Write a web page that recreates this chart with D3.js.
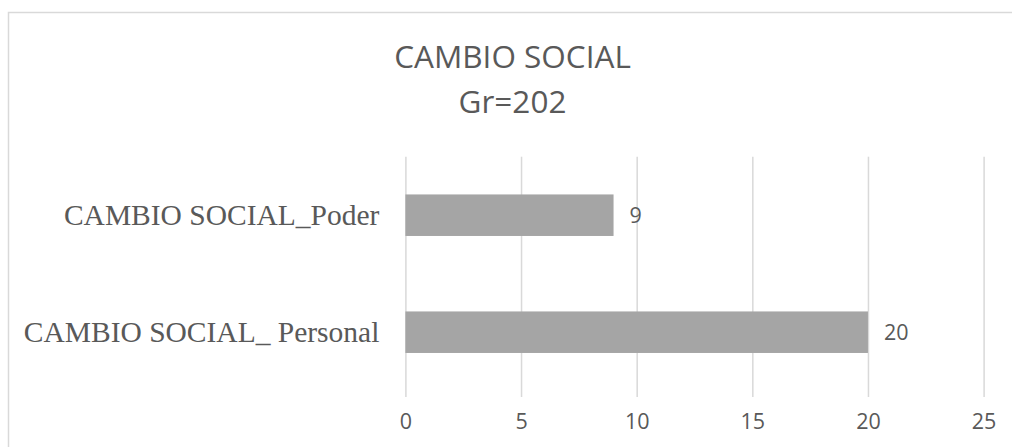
<!DOCTYPE html>
<html>
<head>
<meta charset="utf-8">
<script src="https://cdn.jsdelivr.net/npm/d3@7"></script>
<style>
  html, body { margin: 0; padding: 0; background: #fff; overflow: hidden; }
  svg { display: block; overflow: hidden; }
</style>
</head>
<body>
<svg id="chart" width="1012" height="447"></svg>
<script>
// Categories listed from top to bottom, with their counts
const categories = ["CAMBIO SOCIAL_Poder", "CAMBIO SOCIAL_ Personal"];
const values = [9, 20];
const tickValues = [0, 5, 10, 15, 20, 25];
const titleLines = ["CAMBIO SOCIAL", "Gr=202"];

const W = 1012, H = 447;
const svg = d3.select("#chart");

const textColor = "#595959";
const gridColor = "#d9d9d9";
const barColor = "#a5a5a5";
const sansFont = "'Open Sans', 'Noto Sans', sans-serif";
const serifFont = "'Liberation Serif', 'Times New Roman', serif";

// Chart frame (runs past the right and bottom edges of the view)
svg.append("rect")
  .attr("x", 8.5).attr("y", 12.5)
  .attr("width", W + 20).attr("height", H + 20)
  .attr("fill", "#fff")
  .attr("stroke", gridColor)
  .attr("stroke-width", 1.5);

// Plot area
const plot = { left: 405.4, right: 983.6, top: 156.7, bottom: 390.7, gridBottom: 397 };

const x = d3.scaleLinear()
  .domain([0, 25])
  .range([plot.left, plot.right]);

const y = d3.scaleBand()
  .domain(categories)
  .range([plot.top, plot.bottom])
  .paddingInner(0.645)
  .paddingOuter(0.3225);

// Vertical gridlines and tick labels
const xAxis = d3.axisBottom(x)
  .tickValues(tickValues)
  .tickFormat(d3.format("d"))
  .tickSizeInner(-(plot.gridBottom - plot.top))
  .tickSizeOuter(0)
  .tickPadding(17);

const gx = svg.append("g")
  .attr("transform", `translate(0,${plot.gridBottom})`)
  .call(xAxis);
gx.select(".domain").remove();
gx.selectAll(".tick line")
  .attr("stroke", gridColor)
  .attr("stroke-width", 1.5);
gx.selectAll(".tick text")
  .attr("fill", textColor)
  .style("font-family", sansFont)
  .style("font-size", "21.5px");

// Bars
svg.append("g")
  .selectAll("rect")
  .data(categories)
  .join("rect")
  .attr("x", x(0))
  .attr("y", d => y(d))
  .attr("width", (d, i) => x(values[i]) - x(0))
  .attr("height", y.bandwidth())
  .attr("fill", barColor);

// Value labels
svg.append("g")
  .selectAll("text")
  .data(categories)
  .join("text")
  .attr("x", (d, i) => x(values[i]) + 16)
  .attr("y", d => y(d) + y.bandwidth() / 2)
  .attr("dy", "0.36em")
  .attr("fill", textColor)
  .style("font-family", sansFont)
  .style("font-size", "21.5px")
  .text((d, i) => values[i]);

// Category labels
const yAxis = d3.axisLeft(y).tickSize(0).tickPadding(26);
const gy = svg.append("g")
  .attr("transform", `translate(${plot.left},0)`)
  .call(yAxis);
gy.select(".domain").remove();
gy.selectAll(".tick text")
  .attr("fill", textColor)
  .attr("dy", "0.33em")
  .style("font-family", serifFont)
  .style("font-size", "29.5px");

// Title
svg.append("text")
  .attr("x", 512.5)
  .attr("y", 68)
  .attr("text-anchor", "middle")
  .attr("fill", textColor)
  .style("font-family", sansFont)
  .style("font-size", "31.5px")
  .selectAll("tspan")
  .data(titleLines)
  .join("tspan")
  .attr("x", 512.5)
  .attr("dy", (d, i) => i === 0 ? 0 : 45)
  .text(d => d);
</script>
</body>
</html>
